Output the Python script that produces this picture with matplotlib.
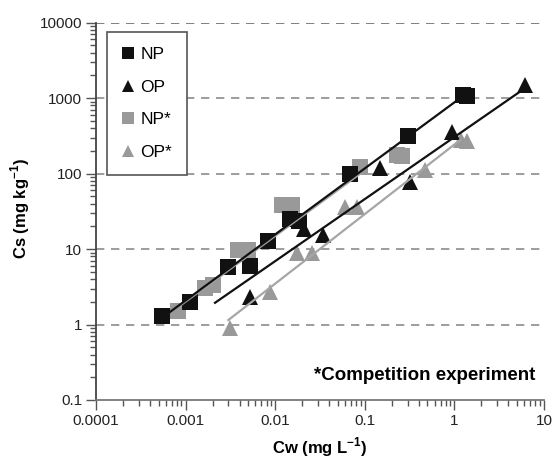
import numpy as np
import matplotlib
matplotlib.use("Agg")
import matplotlib.pyplot as plt
from matplotlib.lines import Line2D
from matplotlib.ticker import LogLocator, NullFormatter

plt.rcParams['font.family'] = ['Liberation Sans', 'DejaVu Sans']
plt.rcParams['mathtext.fontset'] = 'custom'
plt.rcParams['mathtext.rm'] = 'Liberation Sans'
plt.rcParams['mathtext.bf'] = 'Liberation Sans:bold'

# sorption data, Cw (mg/L) vs Cs (mg/kg)
np_cw = [5.4e-4, 1.12e-3, 3.0e-3, 5.2e-3, 8.4e-3, 0.0146, 0.0185, 0.068, 0.30, 1.25, 1.38]
np_cs = [1.30, 2.0, 5.8, 5.9, 12.9, 25, 23.5, 100, 314, 1096, 1060]

op_cw = [5.2e-3, 0.0209, 0.0344, 0.148, 0.319, 0.933, 6.14]
op_cs = [2.31, 18.4, 15.3, 117, 77, 358, 1486]

# competition experiment
nps_cw = [8.2e-4, 1.65e-3, 2.02e-3, 3.87e-3, 5.0e-3, 0.0118, 0.0153, 0.088, 0.229, 0.260]
nps_cs = [1.49, 3.04, 3.34, 9.7, 9.7, 38.3, 38.3, 123, 176, 172]

ops_cw = [3.13e-3, 8.75e-3, 0.0175, 0.0255, 0.060, 0.0813, 0.470, 1.2, 1.4]
ops_cs = [0.90, 2.69, 8.77, 8.77, 36.3, 36.3, 111, 280, 270]

# Freundlich fits: K, n and the Cw range of each line
fit_k = {'NP': 879, 'OP': 305, 'NP*': 820, 'OP*': 243}
fit_n = {'NP': 0.875, 'OP': 0.822, 'NP*': 0.87, 'OP*': 0.922}
fit_range = {'NP': (5.4e-4, 1.21), 'OP': (2.13e-3, 6.14),
             'NP*': (8.2e-4, 0.09), 'OP*': (3.0e-3, 1.16)}

xticks = [1e-4, 1e-3, 1e-2, 1e-1, 1, 10]
xtick_labels = ['0.0001', '0.001', '0.01', '0.1', '1', '10']
yticks = [0.1, 1, 10, 100, 1000, 10000]
ytick_labels = ['0.1', '1', '10', '100', '1000', '10000']

black = '#111111'
grey = '#999999'
grey_line = '#a6a6a6'

fig = plt.figure(figsize=(5.52, 4.62), dpi=100)
ax = fig.add_axes([0.1739, 0.1342, 0.8116, 0.8167])
ax.set_xscale('log')
ax.set_yscale('log')
ax.set_xlim(1e-4, 10)
ax.set_ylim(0.1, 10000)

ms = 11
ax.plot(nps_cw, nps_cs, 's', color=grey, ms=ms, mew=0, zorder=2)
ax.plot(ops_cw, ops_cs, '^', color=grey, ms=ms + 1, mew=0, zorder=2)
ax.plot(np_cw, np_cs, 's', color=black, ms=ms, mew=0, zorder=3)
ax.plot(op_cw, op_cs, '^', color=black, ms=ms + 1, mew=0, zorder=3)

for name, col, z in [('NP*', grey_line, 4), ('OP*', grey_line, 4),
                     ('NP', black, 5), ('OP', black, 5)]:
    lo, hi = fit_range[name]
    xs = np.logspace(np.log10(lo), np.log10(hi), 50)
    ax.plot(xs, fit_k[name] * xs ** fit_n[name], color=col, lw=1.6, zorder=z)

ax.set_xticks(xticks)
ax.set_xticklabels(xtick_labels)
ax.set_yticks(yticks)
ax.set_yticklabels(ytick_labels)
ax.xaxis.set_minor_locator(LogLocator(base=10, subs=np.arange(2, 10)))
ax.yaxis.set_minor_locator(LogLocator(base=10, subs=np.arange(2, 10)))
ax.xaxis.set_minor_formatter(NullFormatter())
ax.yaxis.set_minor_formatter(NullFormatter())
ax.tick_params(which='major', length=7, width=1, color='#555555',
               labelsize=11, labelcolor='#222222', pad=3)
ax.tick_params(which='minor', length=4, width=1, color='#555555')

ax.spines['top'].set_visible(False)
ax.spines['right'].set_visible(False)
ax.spines['left'].set_color('#444444')
ax.spines['bottom'].set_color('#777777')
ax.spines['left'].set_linewidth(1.3)
ax.spines['bottom'].set_linewidth(1.3)

for y in yticks[1:]:
    ax.axhline(y, color='#6a6a6a' if y == 10000 else '#8c8c8c',
               lw=1.2, ls=(0, (5, 4)), zorder=1)

handles = [
    Line2D([], [], marker='s', ls='none', color=black, ms=8, mew=0),
    Line2D([], [], marker='^', ls='none', color=black, ms=9, mew=0),
    Line2D([], [], marker='s', ls='none', color=grey, ms=8, mew=0),
    Line2D([], [], marker='^', ls='none', color=grey, ms=9, mew=0),
]
leg = ax.legend(handles, ['NP', 'OP', 'NP*', 'OP*'], loc='upper left',
                bbox_to_anchor=(0.024, 0.974), fontsize=12.5, frameon=True,
                fancybox=False, edgecolor='#555555', framealpha=1,
                handlelength=0.8, handletextpad=0.3, labelspacing=1.0,
                borderpad=0.85, borderaxespad=0)
leg.get_frame().set_linewidth(1.2)

ax.text(0.98, 0.066, '*Competition experiment', transform=ax.transAxes,
        ha='right', va='center', fontsize=13.5, fontweight='bold')

fig.text(320 / 552, 1 - 447 / 462, r'Cw (mg L$^{\mathbf{-1}}$)',
         ha='center', va='center', fontsize=12, fontweight='bold')
fig.text(20 / 552, 1 - 208 / 462, r'Cs (mg kg$^{\mathbf{-1}}$)',
         ha='center', va='center', rotation=90, fontsize=12, fontweight='bold')

fig.savefig('out.png', dpi=100)
